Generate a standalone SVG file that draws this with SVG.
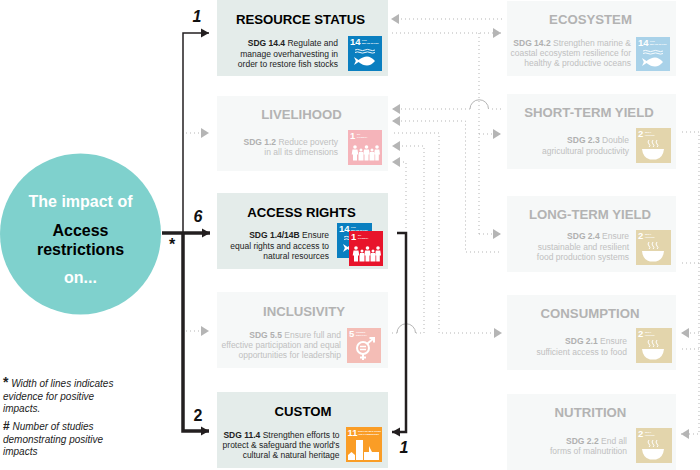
<svg xmlns="http://www.w3.org/2000/svg" width="700" height="470" viewBox="0 0 700 470">
<style>
text{font-family:"Liberation Sans",Arial,sans-serif}
.box-on{fill:#e4ecea}.box-off{fill:#f6f8f8}
.t{font-size:13.2px;font-weight:700;text-anchor:middle}
.t-on{fill:#000}.t-off{fill:#b3b3b3}
.b{font-size:8.5px;text-anchor:end}
.b-on{fill:#222}.b-off{fill:#c0c0c0}
.b tspan.s{font-weight:700}
.b-off tspan.s{fill:#b0b0b0}
.num{font-size:9.500px;font-weight:700;fill:#fff}
.cap{font-size:2.200px;font-weight:700;fill:#fff}
.dot{fill:none;stroke:#b5b5b5;stroke-width:1;stroke-dasharray:1 3}
.arc{fill:none;stroke:#b5b5b5;stroke-width:1}
.blk{fill:none;stroke:#231f20}
.cnt{font-size:16px;font-weight:700;fill:#111;text-anchor:middle}
.note{font-size:10px;font-style:italic;fill:#222}
.circ{font-size:16px;font-weight:700;text-anchor:middle}
</style>
<defs>
<marker id="ga" markerUnits="userSpaceOnUse" markerWidth="9" markerHeight="10" refX="8" refY="5" orient="auto"><path d="M0 0L8 5L0 10Z" fill="#b5b5b5"/></marker>
<marker id="ka" markerUnits="userSpaceOnUse" markerWidth="9" markerHeight="10" refX="8" refY="5" orient="auto"><path d="M0 .5L8 5L0 9.500Z" fill="#231f20"/></marker>
<g id="fish"><path d="M7 14q2.500-1.200 5 0t5 0t5 0t5 0M7 16.500q2.500-1.200 5 0t5 0t5 0t5 0" fill="none" stroke="#fff" stroke-width=".9"/><path d="M6 21l4.500 3q4.500-3.500 8.500-3.500t8 4.500q-4 4.500-8 4.500t-8.500-3.500l-4.500 3l1.800-4Z" fill="#fff"/></g>
<g id="bowl"><path d="M6 21h22q-1 9-8 10.500h-6q-7-1.500-8-10.500Z" fill="#fff"/><path d="M13 12q-2 2 0 4t0 3M17 12q-2 2 0 4t0 3M21 12q-2 2 0 4t0 3" fill="none" stroke="#fff" stroke-width="1"/></g>
<g id="people"><g fill="#fff"><circle cx="7" cy="17" r="1.800"/><path d="M4.500 19.500h5l.8 5h-1.300v6h-4v-6h-1.300Z"/><circle cx="13" cy="20" r="1.500"/><path d="M11 22h4l.5 3.500v5h-5v-5Z"/><circle cx="18.500" cy="17" r="1.800"/><path d="M16 19.500h5l.8 5h-1.300v6h-4v-6h-1.300Z"/><circle cx="24" cy="20" r="1.500"/><path d="M22 22h4l.500 3.500v5h-5v-5Z"/><circle cx="29" cy="17" r="1.800"/><path d="M26.800 19.500h4.500l.7 5h-1.200v6h-3.600v-6h-1.200Z"/></g></g>
<g id="gender"><circle cx="16" cy="20" r="6" fill="none" stroke="#fff" stroke-width="2"/><path d="M16 26v6M13 29.500h6M20.500 15.500l6-5M22.500 10h4.500v4.500" fill="none" stroke="#fff" stroke-width="2"/><path d="M13 18.500h6M13 21.500h6" stroke="#fff" stroke-width="1.300"/></g>
<g id="city" fill="#fff"><path d="M2 33v-5l3.500-3l3.500 3v5Z"/><rect x="10" y="13" width="7" height="20"/><path d="M18 33v-8h5v-6l3 6h7v8Z"/></g>
</defs>

<g id="connectors">
<path class="dot" d="M186 133H209" marker-end="url(#ga)"/>
<path class="dot" d="M186 331H209" marker-end="url(#ga)"/>
<path class="dot" d="M502 19H391" marker-end="url(#ga)"/>
<path class="dot" d="M392 33H501" marker-end="url(#ga)"/>
<path class="dot" d="M479 33V234"/>
<path class="dot" d="M479 134H501" marker-end="url(#ga)"/>
<path class="dot" d="M479 234H501" marker-end="url(#ga)"/>
<path class="dot" d="M501 109H490"/>
<path class="arc" d="M470 109a9 9 0 0 1 18.500 0"/>
<path class="dot" d="M470 109H392" marker-end="url(#ga)"/>
<path class="dot" d="M499 252H465.500V121H392" marker-end="url(#ga)"/>
<path class="dot" d="M394 133H439V333H502" marker-end="url(#ga)"/>
<path class="dot" d="M392 333H397"/>
<path class="arc" d="M397 333a9 9 0 0 1 18.500 0"/>
<path class="dot" d="M416 333H424V146H392" marker-end="url(#ga)"/>
<path class="dot" d="M406 228V162H392" marker-end="url(#ga)"/>
<path class="dot" d="M682 132H699V434H681" marker-end="url(#ga)"/>
<path class="dot" d="M682 263H699"/>
<path class="dot" d="M699 333H681" marker-end="url(#ga)"/>
<path class="dot" d="M682 349H699"/>
<path class="blk" stroke-width="1.500" d="M183 233V33H209" marker-end="url(#ka)"/>
<path class="blk" stroke-width="3.500" d="M162 233H210" marker-end="url(#ka)"/>
<path class="blk" stroke-width="3.500" d="M183 233V431H209" marker-end="url(#ka)"/>
<path class="blk" stroke-width="2.500" d="M397 233H406V432H392" marker-end="url(#ka)"/>
</g>

<g id="source">
<circle cx="80.500" cy="234" r="80.500" fill="#7fd1cd"/>
<text class="circ" x="80.500" y="207" fill="#fff">The impact of</text>
<text class="circ" x="80.500" y="236" fill="#000">Access</text>
<text class="circ" x="80.500" y="255" fill="#000">restrictions</text>
<text class="circ" x="80.500" y="283" fill="#fff">on...</text>
</g>

<g id="counts">
<text class="cnt" x="197" y="22" font-style="italic">1</text>
<text class="cnt" x="198" y="222" font-style="italic">6</text>
<text class="cnt" x="172" y="250">*</text>
<text class="cnt" x="198" y="421">2</text>
<text class="cnt" x="404" y="453" font-style="italic">1</text>
</g>

<g id="resource-status">
<rect class="box-on" x="217" y="0" width="171" height="76"/>
<text class="t t-on" x="300.500" y="24">RESOURCE STATUS</text>
<text class="b b-on"><tspan class="s" x="338" y="46">SDG 14.4</tspan> Regulate and<tspan x="338" y="57">manage overharvesting in</tspan><tspan x="338" y="67">order to restore fish stocks</tspan></text>
<g transform="translate(348 36)"><rect width="34" height="35" fill="#0a7fc0"/><text class="num" x="2" y="9">14</text><text class="cap" x="14" y="4.500">LIFE</text><text class="cap" x="14" y="7.500">BELOW WATER</text><use href="#fish"/></g>
</g>

<g id="livelihood">
<rect class="box-off" x="217" y="96" width="171" height="75"/>
<text class="t t-off" x="301.500" y="119">LIVELIHOOD</text>
<text class="b b-off"><tspan class="s" x="338" y="145">SDG 1.2</tspan> Reduce poverty<tspan x="338" y="155">in all its dimensions</tspan></text>
<g transform="translate(348 130)"><rect width="34" height="35" fill="#f5b4ba"/><text class="num" x="2" y="9">1</text><text class="cap" x="9" y="4.500">NO</text><text class="cap" x="9" y="7.500">POVERTY</text><use href="#people"/></g>
</g>

<g id="access-rights">
<rect class="box-on" x="217" y="193" width="171" height="76"/>
<text class="t t-on" x="301.500" y="217">ACCESS RIGHTS</text>
<text class="b b-on"><tspan class="s" x="329" y="238">SDG 1.4/14B</tspan> Ensure<tspan x="329" y="249">equal rights and access to</tspan><tspan x="329" y="259">natural resources</tspan></text>
<g transform="translate(337 223)"><rect width="35" height="35" fill="#0a7fc0"/><text class="num" x="2" y="9">14</text><text class="cap" x="14" y="4.500">LIFE</text><text class="cap" x="14" y="7.500">BELOW WATER</text><use href="#fish"/></g>
<g transform="translate(349 231)"><rect width="34" height="35" fill="#e8142b"/><text class="num" x="2" y="9">1</text><text class="cap" x="9" y="4.500">NO</text><text class="cap" x="9" y="7.500">POVERTY</text><use href="#people"/></g>
</g>

<g id="inclusivity">
<rect class="box-off" x="217" y="292" width="171" height="76"/>
<text class="t t-off" x="304" y="316">INCLUSIVITY</text>
<text class="b b-off"><tspan class="s" x="341" y="338">SDG 5.5</tspan> Ensure full and<tspan x="341" y="348">effective participation and equal</tspan><tspan x="341" y="358">opportunities for leadership</tspan></text>
<g transform="translate(347 328)"><rect width="34" height="35" fill="#f4bdb6"/><text class="num" x="2" y="9">5</text><text class="cap" x="9" y="4.500">GENDER</text><text class="cap" x="9" y="7.500">EQUALITY</text><use href="#gender"/></g>
</g>

<g id="custom">
<rect class="box-on" x="217" y="392" width="171" height="76"/>
<text class="t t-on" x="303" y="416">CUSTOM</text>
<text class="b b-on"><tspan class="s" x="339.500" y="438">SDG 11.4</tspan> Strengthen efforts to<tspan x="339.500" y="448">protect &amp; safeguard the world's</tspan><tspan x="339.500" y="458">cultural &amp; natural heritage</tspan></text>
<g transform="translate(346 427)"><rect width="36" height="35" fill="#fa9d26"/><text class="num" x="1.500" y="9">11</text><text class="cap" x="12" y="4.500">SUSTAINABLE CITIES</text><text class="cap" x="12" y="7.500">AND COMMUNITIES</text><use href="#city"/></g>
</g>

<g id="ecosystem">
<rect class="box-off" x="507" y="1" width="169" height="75"/>
<text class="t t-off" x="590.500" y="24">ECOSYSTEM</text>
<text class="b b-off"><tspan class="s" x="631" y="46">SDG 14.2</tspan> Strengthen marine &amp;<tspan x="631" y="56">coastal ecosystem resilience for</tspan><tspan x="631" y="66">healthy &amp; productive oceans</tspan></text>
<g transform="translate(636 37)"><rect width="34" height="34" fill="#a9d2e9"/><text class="num" x="2" y="9">14</text><text class="cap" x="14" y="4.500">LIFE</text><text class="cap" x="14" y="7.500">BELOW WATER</text><use href="#fish"/></g>
</g>

<g id="short-term-yield">
<rect class="box-off" x="507" y="94" width="169" height="75"/>
<text class="t t-off" x="589" y="117">SHORT-TERM YIELD</text>
<text class="b b-off"><tspan class="s" x="629" y="143">SDG 2.3</tspan> Double<tspan x="629" y="154">agricultural productivity</tspan></text>
<g transform="translate(636 128)"><rect width="35" height="35" fill="#e3d5ac"/><text class="num" x="2" y="9">2</text><text class="cap" x="9" y="4.500">ZERO</text><text class="cap" x="9" y="7.500">HUNGER</text><use href="#bowl"/></g>
</g>

<g id="long-term-yield">
<rect class="box-off" x="507" y="196" width="169" height="76"/>
<text class="t t-off" x="590" y="219">LONG-TERM YIELD</text>
<text class="b b-off"><tspan class="s" x="629" y="239">SDG 2.4</tspan> Ensure<tspan x="629" y="250">sustainable and resilient</tspan><tspan x="629" y="260">food production systems</tspan></text>
<g transform="translate(636 230)"><rect width="35" height="35" fill="#e3d5ac"/><text class="num" x="2" y="9">2</text><text class="cap" x="9" y="4.500">ZERO</text><text class="cap" x="9" y="7.500">HUNGER</text><use href="#bowl"/></g>
</g>

<g id="consumption">
<rect class="box-off" x="507" y="295" width="169" height="75"/>
<text class="t t-off" x="590" y="318">CONSUMPTION</text>
<text class="b b-off"><tspan class="s" x="627" y="344">SDG 2.1</tspan> Ensure<tspan x="627" y="355">sufficient access to food</tspan></text>
<g transform="translate(636 328)"><rect width="36" height="35" fill="#e3d5ac"/><text class="num" x="2" y="9">2</text><text class="cap" x="9" y="4.500">ZERO</text><text class="cap" x="9" y="7.500">HUNGER</text><use href="#bowl"/></g>
</g>

<g id="nutrition">
<rect class="box-off" x="507" y="394" width="169" height="76"/>
<text class="t t-off" x="590.500" y="417">NUTRITION</text>
<text class="b b-off"><tspan class="s" x="627" y="444">SDG 2.2</tspan> End all<tspan x="627" y="454">forms of malnutrition</tspan></text>
<g transform="translate(636 428)"><rect width="36" height="35" fill="#e3d5ac"/><text class="num" x="2" y="9">2</text><text class="cap" x="9" y="4.500">ZERO</text><text class="cap" x="9" y="7.500">HUNGER</text><use href="#bowl"/></g>
</g>

<g id="notes">
<text class="note"><tspan x="3" y="387" font-size="14" font-weight="700" font-style="normal">*</tspan> Width of lines indicates<tspan x="3" y="399.500">evidence for positive</tspan><tspan x="3" y="411.500">impacts.</tspan></text>
<text class="note"><tspan x="3" y="430" font-size="12" font-weight="700" font-style="normal">#</tspan> Number of studies<tspan x="3" y="442.500">demonstrating positive</tspan><tspan x="3" y="454.500">impacts</tspan></text>
</g>
</svg>
